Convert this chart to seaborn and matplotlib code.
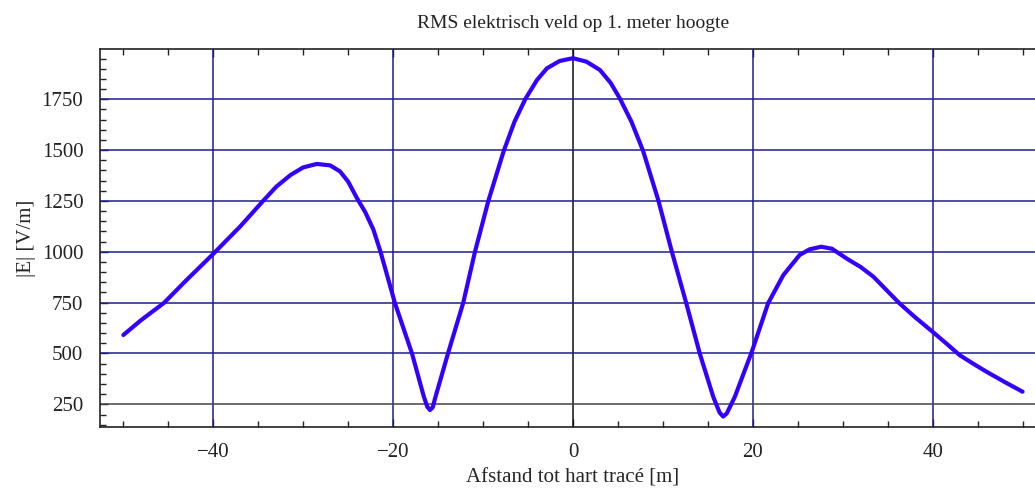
import numpy as np
import pandas as pd
import seaborn as sns
import matplotlib.pyplot as plt
from matplotlib.ticker import MultipleLocator

# values
distance = [-50, -48, -45.5, -43, -40, -37, -34.4, -33, -31.4, -30, -28.5, -27,
            -25.9, -25.0, -24.0, -23.1, -22.2, -21.4, -19.8, -17.9, -16.6, -16.2,
            -15.9, -15.6, -15.3, -13.9, -12.2, -10.9, -9.4, -7.7, -6.5, -5.3, -4.0,
            -2.9, -1.5, 0, 1.5, 3, 4.2, 5.2, 6.5, 7.8, 9.5, 11.0, 12.6, 14.1, 15.6,
            16.3, 16.7, 17.1, 18.0, 19.9, 21.7, 23.4, 25.2, 26.3, 27.6, 28.8, 30.5,
            32, 33.4, 36.3, 38, 40.2, 41.5, 43, 44.5, 46, 48, 50]
field = [591, 665, 748, 860, 990, 1125, 1253, 1320, 1378, 1415, 1432, 1425,
         1395, 1345, 1262, 1195, 1110, 1000, 748, 500, 290, 238,
         222, 235, 285, 500, 750, 1000, 1252, 1496, 1640, 1751, 1845,
         1902, 1938, 1952, 1935, 1894, 1830, 1755, 1640, 1496, 1252, 1000, 747, 500, 287,
         210, 190, 205, 287, 510, 747, 886, 984, 1012, 1025, 1015, 965,
         925, 878, 747, 680, 599, 550, 492, 450, 410, 360, 312]

df = pd.DataFrame({"x": distance, "E": field})

sns.set_style("ticks")
plt.rcParams['font.family'] = ['Liberation Serif', 'DejaVu Serif']
plt.rcParams['text.color'] = '#222222'

fig = plt.figure(figsize=(10.35, 4.91), dpi=100)
ax = fig.add_axes([0.0966, 0.1297, 0.914, 0.770])

grid_col = '#1c1c8c'
for gx in [-40, -20, 20, 40]:
    ax.axvline(gx, color=grid_col, lw=1.1, zorder=1)
ax.axvline(0, color='#111111', lw=1.1, zorder=1)
for gy in [500, 750, 1000, 1250, 1500, 1750]:
    ax.axhline(gy, color=grid_col, lw=1.1, zorder=1)
ax.axhline(250, color='#444444', lw=1.1, zorder=1)

sns.lineplot(data=df, x="x", y="E", ax=ax, color='#3300ff', lw=3.0,
             sort=False, zorder=3)

ax.set_xlim(-52.6, 52.6)
ax.set_ylim(137, 1996)
ax.xaxis.set_major_locator(MultipleLocator(20))
ax.xaxis.set_minor_locator(MultipleLocator(5))
ax.yaxis.set_major_locator(MultipleLocator(250))
ax.yaxis.set_minor_locator(MultipleLocator(50))
ax.tick_params(which='both', direction='in', top=True, right=True,
               labelsize=15, colors='#222222', width=1.0)
ax.tick_params(which='major', length=6)
ax.tick_params(which='minor', length=4)
ax.tick_params(axis='y', pad=12)
ax.tick_params(axis='x', pad=11)
for s in ax.spines.values():
    s.set_linewidth(1.2)
    s.set_color('#222222')

ax.set_title('RMS elektrisch veld op 1. meter hoogte', fontsize=14, pad=15)
ax.set_xlabel('Afstand tot hart tracé [m]', fontsize=15, labelpad=5)
ax.set_ylabel('|E| [V/m]', fontsize=15, labelpad=4)

fig.savefig('out.png', dpi=100)
